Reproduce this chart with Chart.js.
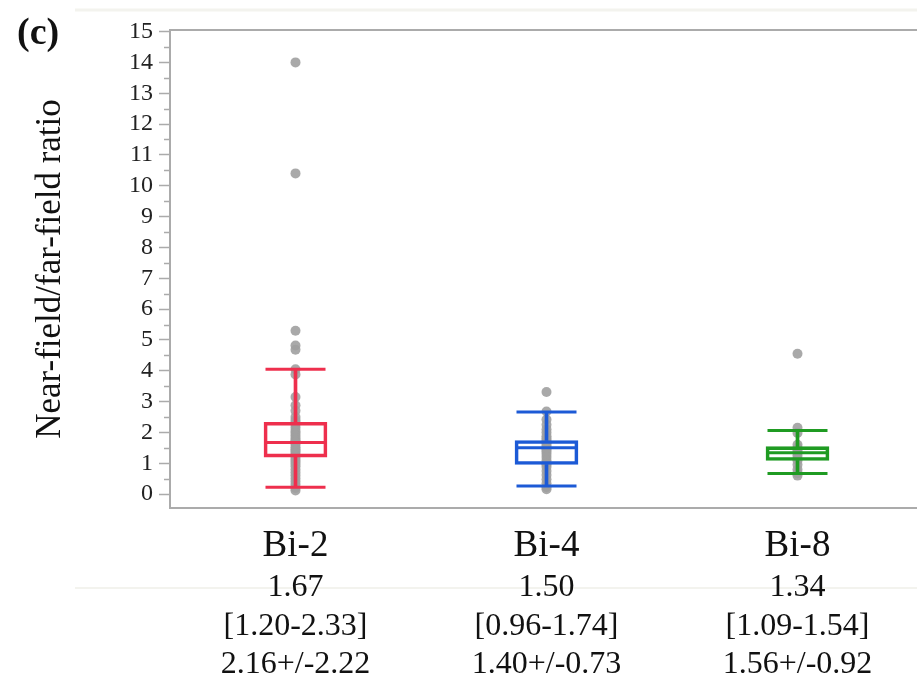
<!DOCTYPE html>
<html>
<head>
<meta charset="utf-8">
<title>Near-field/far-field ratio</title>
<script src="https://cdn.jsdelivr.net/npm/chart.js@4/dist/chart.umd.min.js"></script>
<style>
  html, body { margin: 0; padding: 0; background: #fff; overflow: hidden; }
  #wrap { width: 917px; height: 678px; overflow: hidden; }
</style>
</head>
<body>
<!-- the plot frame runs slightly past the right edge, so the canvas is a bit wider than the page -->
<div id="wrap"><canvas id="ratioChart" width="923" height="678"></canvas></div>
<script>
"use strict";

const groups = ["Bi-2", "Bi-4", "Bi-8"];
const groupColors = ["#ee2f4d", "#1c5ad6", "#1f9b22"];

// box statistics per group
const medians = [1.67, 1.50, 1.34];
const q1 = [1.20, 0.96, 1.09];
const q3 = [2.33, 1.74, 1.54];
const whiskerLow = [0.22, 0.26, 0.67];
const whiskerHigh = [4.05, 2.66, 2.06];
const means = [2.16, 1.40, 1.56];
const sds = [2.22, 0.73, 0.92];

// individual ratios
const bi2Values = [14.0, 10.4, 5.3, 4.82, 4.68, 4.05, 3.88, 3.15, 2.88, 2.7, 2.5, 2.4, 2.33,
  2.25, 2.15, 2.05, 1.98, 1.9, 1.82, 1.75, 1.7, 1.67, 1.6, 1.52, 1.45, 1.4, 1.33, 1.26,
  1.2, 1.12, 1.05, 0.98, 0.9, 0.8, 0.7, 0.6, 0.5, 0.4, 0.3, 0.2, 0.12];
const bi4Values = [3.31, 2.68, 2.42, 2.25, 2.1, 2.0, 1.88, 1.8, 1.74, 1.65, 1.58, 1.5, 1.45,
  1.38, 1.3, 1.2, 1.1, 1.0, 0.96, 0.88, 0.75, 0.62, 0.48, 0.35, 0.22, 0.16];
const bi8Values = [4.55, 2.15, 1.98, 1.6, 1.5, 1.42, 1.34, 1.25, 1.15, 1.09, 0.95, 0.8, 0.68, 0.6];

const yTicks = [0, 1, 2, 3, 4, 5, 6, 7, 8, 9, 10, 11, 12, 13, 14, 15];

const axisGray = "#ababab";
const serif = "'Liberation Serif', 'Times New Roman', serif";

const statLabels = groups.map((g, i) => [
  medians[i].toFixed(2),
  "[" + q1[i].toFixed(2) + "-" + q3[i].toFixed(2) + "]",
  means[i].toFixed(2) + "+/-" + sds[i].toFixed(2)
]);

let points = [];
[bi2Values, bi4Values, bi8Values].forEach((vals, i) => {
  vals.forEach(v => points.push({ x: groups[i], y: v }));
});

function markers(values, radius) {
  return {
    type: "line",
    data: values.map((v, i) => ({ x: groups[i], y: v })),
    showLine: false,
    pointStyle: "line",
    pointRadius: radius,
    pointHoverRadius: radius,
    pointBorderColor: groupColors,
    pointBorderWidth: 3,
    order: 0
  };
}

// top frame line, half-unit minor ticks and the panel letter
const framePlugin = {
  id: "frame",
  beforeDraw(chart) {
    const ctx = chart.ctx;
    ctx.save();
    ctx.strokeStyle = "#f3f3ee";
    ctx.lineWidth = 3;
    ctx.beginPath();
    ctx.moveTo(75, 10); ctx.lineTo(923, 10);
    ctx.stroke();
    ctx.lineWidth = 2;
    ctx.beginPath();
    ctx.moveTo(75, 588); ctx.lineTo(923, 588);
    ctx.stroke();
    ctx.restore();
  },
  afterDraw(chart) {
    const ctx = chart.ctx;
    const area = chart.chartArea;
    const y = chart.scales.y;
    ctx.save();
    ctx.strokeStyle = axisGray;
    ctx.lineWidth = 2;
    ctx.beginPath();
    ctx.moveTo(area.left - 1, area.top);
    ctx.lineTo(area.right, area.top);
    ctx.stroke();

    ctx.lineWidth = 1.5;
    for (let i = 0; i < yTicks.length - 1; i++) {
      const py = Math.round(y.getPixelForValue((yTicks[i] + yTicks[i + 1]) / 2)) + 0.5;
      ctx.beginPath();
      ctx.moveTo(area.left - 6, py);
      ctx.lineTo(area.left, py);
      ctx.stroke();
    }

    ctx.fillStyle = "#111";
    ctx.font = "bold 38px " + serif;
    ctx.textBaseline = "alphabetic";
    ctx.fillText("(c)", 17, 44);
    ctx.restore();
  }
};

const ctx = document.getElementById("ratioChart").getContext("2d");
new Chart(ctx, {
  type: "bar",
  data: {
    labels: groups,
    datasets: [
      {
        label: "observations",
        type: "line",
        data: points,
        showLine: false,
        pointRadius: 5,
        pointHoverRadius: 5,
        pointBackgroundColor: "rgba(160,160,160,0.9)",
        pointBorderWidth: 0,
        order: 5
      },
      {
        label: "box",
        data: groups.map((g, i) => [q1[i], q3[i]]),
        backgroundColor: "rgba(0,0,0,0)",
        borderColor: groupColors,
        borderWidth: 3,
        borderSkipped: false,
        barThickness: 63,
        grouped: false,
        order: 1
      },
      {
        label: "upper whisker",
        data: groups.map((g, i) => [q3[i], whiskerHigh[i]]),
        backgroundColor: groupColors,
        borderWidth: 0,
        barThickness: 3,
        grouped: false,
        order: 1
      },
      {
        label: "lower whisker",
        data: groups.map((g, i) => [whiskerLow[i], q1[i]]),
        backgroundColor: groupColors,
        borderWidth: 0,
        barThickness: 3,
        grouped: false,
        order: 1
      },
      markers(medians, 30),
      markers(whiskerHigh, 30),
      markers(whiskerLow, 30)
    ]
  },
  options: {
    responsive: false,
    animation: false,
    layout: { autoPadding: false, padding: { top: 30, right: 0, bottom: 0, left: 0 } },
    plugins: {
      legend: { display: false },
      tooltip: { enabled: false }
    },
    scales: {
      x: {
        type: "category",
        offset: true,
        weight: 0,
        grid: { display: false },
        border: { display: true, color: axisGray, width: 2 },
        ticks: {
          font: { family: serif, size: 37 },
          color: "#111",
          padding: 8,
          maxRotation: 0,
          autoSkip: false
        },
        afterFit: s => { s.height = 48; }
      },
      x2: {
        type: "category",
        position: "bottom",
        labels: statLabels,
        offset: true,
        weight: 1,
        grid: { display: false },
        border: { display: false },
        ticks: {
          font: { family: serif, size: 32, lineHeight: 1.19 },
          color: "#111",
          padding: 5,
          maxRotation: 0,
          autoSkip: false
        },
        afterFit: s => { s.height = 122; }
      },
      y: {
        min: -0.45,
        max: 15.05,
        afterBuildTicks: s => { s.ticks = yTicks.map(v => ({ value: v })); },
        afterFit: s => { s.width = 170; },
        grid: { drawOnChartArea: false, tickLength: 11, tickColor: axisGray, tickWidth: 1.5 },
        border: { color: axisGray, width: 2 },
        ticks: {
          font: { family: serif, size: 24 },
          color: "#222",
          padding: 6,
          autoSkip: false
        },
        title: {
          display: true,
          text: "Near-field/far-field ratio",
          font: { family: serif, size: 35 },
          color: "#111",
          padding: { top: 30, bottom: 0 }
        }
      }
    }
  },
  plugins: [framePlugin]
});
</script>
</body>
</html>
